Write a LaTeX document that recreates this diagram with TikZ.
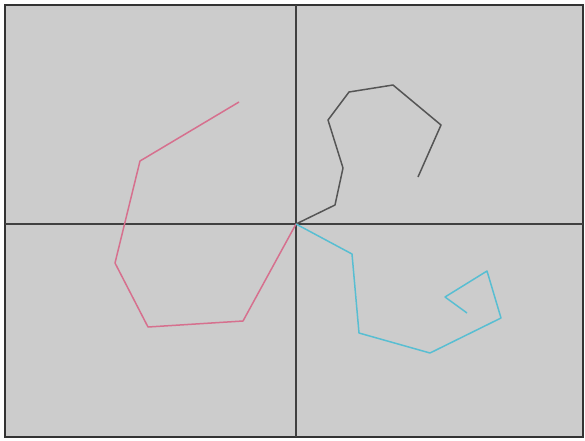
\documentclass[tikz,border=0pt]{standalone}
\definecolor{pinkline}{RGB}{214,112,142}
\definecolor{cyanline}{RGB}{88,190,210}
\definecolor{grayline}{RGB}{85,85,85}
\begin{document}
\begin{tikzpicture}[x=1pt,y=-1pt,
  frame/.style={draw=black!80,line width=2pt,fill=black!20},
  axis/.style={draw=black!75,line width=2.2pt},
  curve/.style={line width=1.5pt,line join=round}]
\useasboundingbox (0,0) rectangle (585,440);
\draw[frame] (4.5,4.5) rectangle (583,437);
\coordinate (o) at (296,224);
\coordinate (top) at (296,4.5);
\coordinate (bot) at (296,437);
\coordinate (lft) at (4.5,224);
\coordinate (rgt) at (583,224);
\draw[axis] (top) -- (bot);
\draw[axis] (lft) -- (rgt);
\draw[curve,grayline] (o) -- (335,205) -- (343,168) -- (328,120) -- (349,92) -- (393,85) -- (441,125) -- (418,177);
\draw[curve,pinkline] (o) -- (243,321) -- (148,327) -- (115,263) -- (140,161) -- (239,102);
\draw[curve,cyanline] (o) -- (352,254) -- (359,333) -- (430,353) -- (501,318) -- (487,271) -- (445,297) -- (467,313);
\end{tikzpicture}
\end{document}
